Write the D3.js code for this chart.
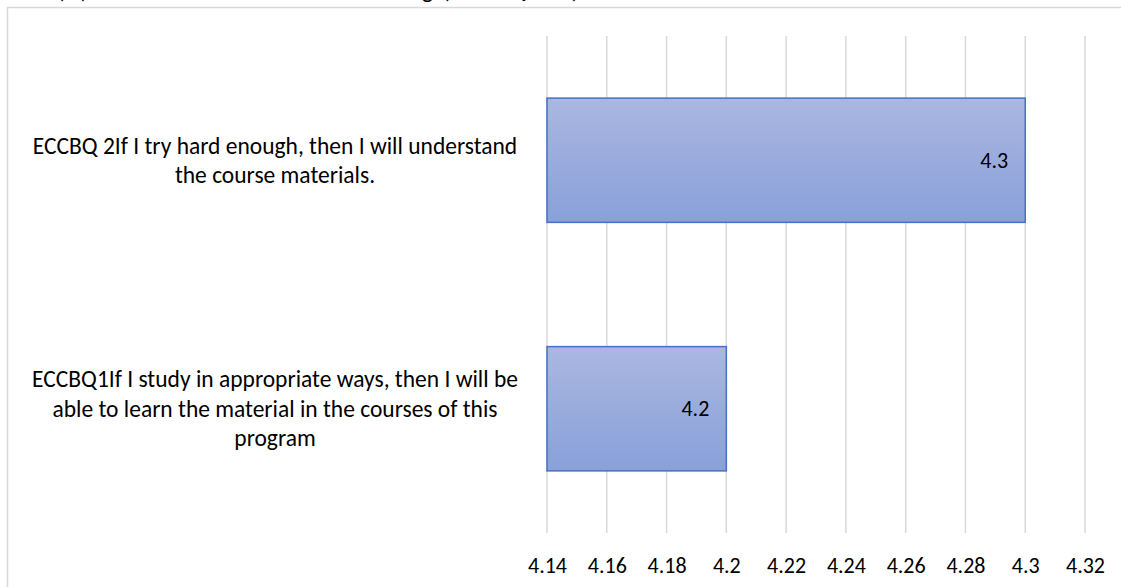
<!DOCTYPE html>
<html>
<head>
<meta charset="utf-8">
<script src="https://cdn.jsdelivr.net/npm/d3@7"></script>
<style>
  html, body { margin: 0; padding: 0; background: #fff; }
  svg { display: block; }
  text { font-family: Carlito, Calibri, Lato, sans-serif; fill: #000; }
</style>
</head>
<body>
<svg id="chart" width="1121" height="587"></svg>
<script>
// ---- data ----
const categories = [
  "ECCBQ 2If I try hard enough, then I will understand the course materials.",
  "ECCBQ1If I study in appropriate ways, then I will be able to learn the material in the courses of this program"
];
const labelLines = [
  ["ECCBQ 2If I try hard enough, then I will understand", "the course materials."],
  ["ECCBQ1If I study in appropriate ways, then I will be", "able to learn the material in the courses of this", "program"]
];
const values = [4.3, 4.2];
const tickValues = [4.14, 4.16, 4.18, 4.2, 4.22, 4.24, 4.26, 4.28, 4.3, 4.32];
const titleText = "(b) Students' Control of Learning (ECCBQ 1-2)";

// ---- layout ----
const W = 1121, H = 587;
const plot = { left: 547, right: 1085, top: 36, bottom: 533 };
const tickFont = 22;
const catFont = 23.5;

const svg = d3.select("#chart");

const defs = svg.append("defs");
const grad = defs.append("linearGradient").attr("id", "barGrad")
  .attr("x1", 0).attr("y1", 0).attr("x2", 0).attr("y2", 1);
grad.append("stop").attr("offset", "0%").attr("stop-color", "#aab7e1");
grad.append("stop").attr("offset", "100%").attr("stop-color", "#89a0d9");

// chart border
svg.append("rect")
  .attr("x", 7.5).attr("y", 7.5)
  .attr("width", W + 20).attr("height", H + 20)
  .attr("fill", "none").attr("stroke", "#d9d9d9").attr("stroke-width", 1.5);

// title (cut off at top, as in the reference)
svg.append("text")
  .attr("x", 57).attr("y", -2)
  .attr("textLength", 522).attr("lengthAdjust", "spacing")
  .style("font-size", "24px")
  .text(titleText);

const x = d3.scaleLinear().domain([4.14, 4.32]).range([plot.left, plot.right]);
const y = d3.scaleBand().domain(categories).range([plot.top, plot.bottom])
  .paddingInner(0.5).paddingOuter(0.25);

// gridlines
svg.append("g").selectAll("line").data(tickValues).join("line")
  .attr("x1", d => x(d)).attr("x2", d => x(d))
  .attr("y1", plot.top).attr("y2", plot.bottom)
  .attr("stroke", "#d9d9d9").attr("stroke-width", 1.5);

// x axis tick labels
const xAxis = d3.axisBottom(x).tickValues(tickValues).tickSize(0).tickPadding(0)
  .tickFormat(d => String(+d.toFixed(2)));
const gx = svg.append("g").attr("transform", `translate(0,${plot.bottom})`).call(xAxis);
gx.select(".domain").remove();
gx.selectAll("text")
  .attr("y", 40).attr("dy", null)
  .style("font-size", tickFont + "px")
  .style("font-family", "Carlito, Calibri, Lato, sans-serif")
  .attr("fill", "#000");

// bars
svg.append("g").selectAll("rect").data(values).join("rect")
  .attr("x", x(4.14))
  .attr("y", (d, i) => y(categories[i]))
  .attr("width", d => x(d) - x(4.14))
  .attr("height", y.bandwidth())
  .attr("fill", "url(#barGrad)")
  .attr("stroke", "#4472c4").attr("stroke-width", 1.5);

// value labels
svg.append("g").selectAll("text").data(values).join("text")
  .attr("x", d => x(d) - 17)
  .attr("y", (d, i) => y(categories[i]) + y.bandwidth() / 2)
  .attr("dy", "0.35em")
  .attr("text-anchor", "end")
  .style("font-size", tickFont + "px")
  .text(d => d);

// category labels
const lh = 29.5;
const cg = svg.append("g");
labelLines.forEach((lines, i) => {
  const cy = y(categories[i]) + y.bandwidth() / 2;
  const t = cg.append("text")
    .attr("text-anchor", "middle")
    .style("font-size", catFont + "px");
  lines.forEach((ln, j) => {
    t.append("tspan")
      .attr("x", 275)
      .attr("y", cy + (j - (lines.length - 1) / 2) * lh)
      .attr("dy", "0.35em")
      .text(ln);
  });
});
</script>
</body>
</html>
